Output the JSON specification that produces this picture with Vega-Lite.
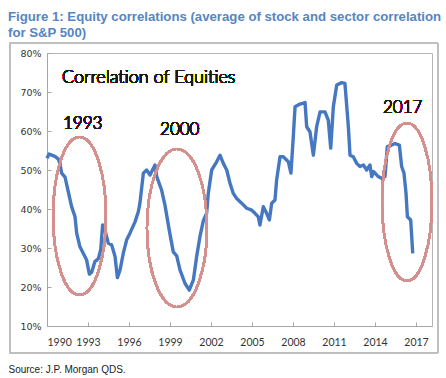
{
  "$schema": "https://vega.github.io/schema/vega-lite/v6.json",
  "width": 385,
  "height": 273,
  "autosize": {"type": "none"},
  "padding": {"left": 47, "top": 53, "right": 14, "bottom": 52},
  "background": "white",
  "title": {
    "text": ["Figure 1: Equity correlations (average of stock and sector correlation", "for S&P 500)"],
    "anchor": "start",
    "frame": "group",
    "dx": -39,
    "offset": 2,
    "font": "Liberation Sans",
    "fontSize": 13.2,
    "fontWeight": "bold",
    "color": "#5585C4",
    "lineHeight": 16
  },
  "config": {
    "view": {"stroke": "#B5B5B5", "strokeWidth": 1},
    "axis": {"grid": false, "labelOverlap": false}
  },
  "data": {
    "values": [
      {"year": 1990.00, "corr": 0.530}, {"year": 1990.15, "corr": 0.541}, {"year": 1990.35, "corr": 0.538},
      {"year": 1990.58, "corr": 0.535}, {"year": 1990.83, "corr": 0.528}, {"year": 1990.95, "corr": 0.515},
      {"year": 1991.07, "corr": 0.492}, {"year": 1991.32, "corr": 0.482}, {"year": 1991.56, "corr": 0.444},
      {"year": 1991.80, "corr": 0.406}, {"year": 1992.05, "corr": 0.380}, {"year": 1992.17, "corr": 0.338},
      {"year": 1992.41, "corr": 0.303}, {"year": 1992.66, "corr": 0.286}, {"year": 1992.90, "corr": 0.269},
      {"year": 1993.10, "corr": 0.233}, {"year": 1993.27, "corr": 0.238}, {"year": 1993.50, "corr": 0.265},
      {"year": 1993.75, "corr": 0.272}, {"year": 1993.93, "corr": 0.295}, {"year": 1994.07, "corr": 0.359},
      {"year": 1994.24, "corr": 0.346}, {"year": 1994.49, "corr": 0.312}, {"year": 1994.73, "corr": 0.308},
      {"year": 1994.98, "corr": 0.278}, {"year": 1995.15, "corr": 0.224}, {"year": 1995.34, "corr": 0.243},
      {"year": 1995.58, "corr": 0.286}, {"year": 1995.83, "corr": 0.321}, {"year": 1996.07, "corr": 0.338},
      {"year": 1996.44, "corr": 0.367}, {"year": 1996.68, "corr": 0.393}, {"year": 1996.80, "corr": 0.415},
      {"year": 1997.05, "corr": 0.492}, {"year": 1997.29, "corr": 0.500}, {"year": 1997.54, "corr": 0.487},
      {"year": 1997.90, "corr": 0.513}, {"year": 1998.03, "corr": 0.483}, {"year": 1998.39, "corr": 0.448},
      {"year": 1998.63, "corr": 0.410}, {"year": 1999.00, "corr": 0.335}, {"year": 1999.24, "corr": 0.290},
      {"year": 1999.49, "corr": 0.280}, {"year": 1999.73, "corr": 0.244}, {"year": 2000.10, "corr": 0.209},
      {"year": 2000.41, "corr": 0.192}, {"year": 2000.71, "corr": 0.218}, {"year": 2000.95, "corr": 0.278},
      {"year": 2001.19, "corr": 0.329}, {"year": 2001.44, "corr": 0.370}, {"year": 2001.68, "corr": 0.389},
      {"year": 2001.80, "corr": 0.440}, {"year": 2002.05, "corr": 0.500}, {"year": 2002.41, "corr": 0.521},
      {"year": 2002.66, "corr": 0.538}, {"year": 2002.90, "corr": 0.517}, {"year": 2003.15, "corr": 0.500},
      {"year": 2003.39, "corr": 0.466}, {"year": 2003.63, "corr": 0.440}, {"year": 2003.88, "corr": 0.427},
      {"year": 2004.24, "corr": 0.415}, {"year": 2004.61, "corr": 0.402}, {"year": 2004.98, "corr": 0.397},
      {"year": 2005.22, "corr": 0.389}, {"year": 2005.46, "corr": 0.380}, {"year": 2005.58, "corr": 0.359},
      {"year": 2005.83, "corr": 0.406}, {"year": 2006.07, "corr": 0.389}, {"year": 2006.27, "corr": 0.372},
      {"year": 2006.44, "corr": 0.415}, {"year": 2006.68, "corr": 0.423}, {"year": 2006.80, "corr": 0.474},
      {"year": 2007.05, "corr": 0.534}, {"year": 2007.29, "corr": 0.534}, {"year": 2007.66, "corr": 0.521},
      {"year": 2007.85, "corr": 0.492}, {"year": 2008.02, "corr": 0.585}, {"year": 2008.15, "corr": 0.662},
      {"year": 2008.51, "corr": 0.669}, {"year": 2008.88, "corr": 0.673}, {"year": 2009.00, "corr": 0.611},
      {"year": 2009.24, "corr": 0.598}, {"year": 2009.49, "corr": 0.538}, {"year": 2009.73, "corr": 0.611},
      {"year": 2009.98, "corr": 0.649}, {"year": 2010.34, "corr": 0.649}, {"year": 2010.58, "corr": 0.628},
      {"year": 2010.76, "corr": 0.556}, {"year": 2010.95, "corr": 0.662}, {"year": 2011.20, "corr": 0.718},
      {"year": 2011.56, "corr": 0.724}, {"year": 2011.80, "corr": 0.722}, {"year": 2012.05, "corr": 0.611},
      {"year": 2012.17, "corr": 0.538}, {"year": 2012.41, "corr": 0.534}, {"year": 2012.66, "corr": 0.517},
      {"year": 2012.90, "corr": 0.509}, {"year": 2013.15, "corr": 0.513}, {"year": 2013.39, "corr": 0.500},
      {"year": 2013.63, "corr": 0.513}, {"year": 2013.76, "corr": 0.483}, {"year": 2013.90, "corr": 0.496},
      {"year": 2014.24, "corr": 0.483}, {"year": 2014.49, "corr": 0.479}, {"year": 2014.73, "corr": 0.483},
      {"year": 2014.90, "corr": 0.560}, {"year": 2015.22, "corr": 0.564}, {"year": 2015.46, "corr": 0.568},
      {"year": 2015.78, "corr": 0.564}, {"year": 2015.95, "corr": 0.509}, {"year": 2016.12, "corr": 0.492},
      {"year": 2016.27, "corr": 0.440}, {"year": 2016.37, "corr": 0.380}, {"year": 2016.61, "corr": 0.372},
      {"year": 2016.76, "corr": 0.286}
    ]
  },
  "layer": [
    {
      "mark": {"type": "line", "color": "#4678C2", "strokeWidth": 3.4, "strokeJoin": "round"},
      "encoding": {
        "x": {
          "field": "year", "type": "quantitative",
          "scale": {"domain": [1990, 2018.17], "nice": false, "zero": false},
          "axis": {
            "values": [1990, 1993, 1996, 1999, 2002, 2005, 2008, 2011, 2014, 2017],
            "tickCount": 12,
            "format": "d",
            "labelFont": "Lato", "labelFontSize": 10.5, "labelColor": "#333333",
            "labelPadding": 15, "labelOverlap": false,
            "tickSize": -4, "tickColor": "#A6A6A6", "domainColor": "#A6A6A6",
            "title": "Source: J.P. Morgan QDS.",
            "titleFont": "Liberation Sans", "titleFontSize": 10, "titleFontWeight": "normal",
            "titleColor": "#222222", "titleAnchor": "start", "titleAlign": "left",
            "titleX": -39, "titleY": 46, "titleBaseline": "alphabetic"
          }
        },
        "y": {
          "field": "corr", "type": "quantitative",
          "scale": {"domain": [0.1, 0.8], "nice": false, "zero": false},
          "axis": {
            "values": [0.1, 0.2, 0.3, 0.4, 0.5, 0.6, 0.7, 0.8],
            "tickCount": 10,
            "format": ".0%",
            "labelFont": "DejaVu Sans", "labelFontSize": 9.5, "labelColor": "#333333",
            "labelPadding": 10, "labelOverlap": false,
            "tickSize": -4, "tickColor": "#A6A6A6", "domainColor": "#A6A6A6",
            "title": null
          }
        }
      }
    },
    {
      "mark": {"type": "rect", "fillOpacity": 0, "stroke": "#BFBFBF", "strokeWidth": 1, "clip": false},
      "encoding": {
        "x": {"datum": 1987.29, "type": "quantitative"},
        "x2": {"datum": 2018.6},
        "y": {"datum": 0.8256, "type": "quantitative"},
        "y2": {"datum": 0.0308}
      }
    },
    {
      "mark": {"type": "point", "filled": false, "opacity": 1, "stroke": "#D4908D", "strokeWidth": 2, "size": 24964,
        "shape": "M0,-1C0.185,-1,0.335,-0.552,0.335,0C0.335,0.552,0.185,1,0,1C-0.185,1,-0.335,0.552,-0.335,0C-0.335,-0.552,-0.185,-1,0,-1Z"},
      "encoding": {"x": {"datum": 1992.38, "type": "quantitative"}, "y": {"datum": 0.382, "type": "quantitative"}}
    },
    {
      "mark": {"type": "point", "filled": false, "opacity": 1, "stroke": "#D4908D", "strokeWidth": 2, "size": 24964,
        "shape": "M0,-1C0.21,-1,0.38,-0.552,0.38,0C0.38,0.552,0.21,1,0,1C-0.21,1,-0.38,0.552,-0.38,0C-0.38,-0.552,-0.21,-1,0,-1Z"},
      "encoding": {"x": {"datum": 1999.51, "type": "quantitative"}, "y": {"datum": 0.351, "type": "quantitative"}}
    },
    {
      "mark": {"type": "point", "filled": false, "opacity": 1, "stroke": "#D4908D", "strokeWidth": 2, "size": 24964,
        "shape": "M0,-1C0.175,-1,0.316,-0.552,0.316,0C0.316,0.552,0.175,1,0,1C-0.175,1,-0.316,0.552,-0.316,0C-0.316,-0.552,-0.175,-1,0,-1Z"},
      "encoding": {"x": {"datum": 2016.34, "type": "quantitative"}, "y": {"datum": 0.418, "type": "quantitative"}}
    },
    {
      "mark": {"type": "text", "text": "Correlation of Equities", "font": "Lato", "fontSize": 18, "fontWeight": 300, "fill": "#1A1A1A", "align": "left", "baseline": "alphabetic"},
      "encoding": {"x": {"datum": 1991.1, "type": "quantitative"}, "y": {"datum": 0.723, "type": "quantitative"}}
    },
    {
      "mark": {"type": "text", "text": "1993", "font": "Lato", "fontSize": 17, "fontWeight": 300, "fill": "#1A1A1A", "align": "left", "baseline": "alphabetic"},
      "encoding": {"x": {"datum": 1991.17, "type": "quantitative"}, "y": {"datum": 0.605, "type": "quantitative"}}
    },
    {
      "mark": {"type": "text", "text": "2000", "font": "Lato", "fontSize": 17, "fontWeight": 300, "fill": "#1A1A1A", "align": "left", "baseline": "alphabetic"},
      "encoding": {"x": {"datum": 1998.27, "type": "quantitative"}, "y": {"datum": 0.590, "type": "quantitative"}}
    },
    {
      "mark": {"type": "text", "text": "2017", "font": "Lato", "fontSize": 17, "fontWeight": 300, "fill": "#1A1A1A", "align": "left", "baseline": "alphabetic"},
      "encoding": {"x": {"datum": 2014.58, "type": "quantitative"}, "y": {"datum": 0.646, "type": "quantitative"}}
    }
  ]
}
